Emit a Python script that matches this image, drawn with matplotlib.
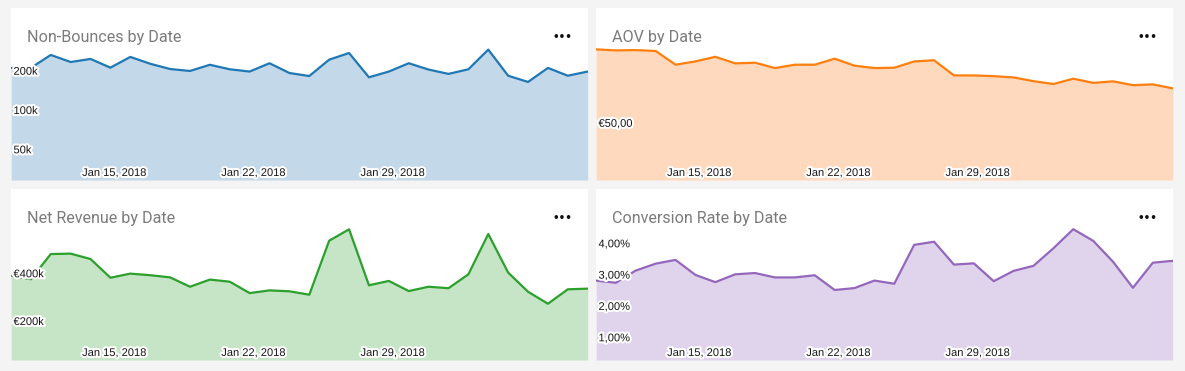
import matplotlib
matplotlib.use("Agg")
import matplotlib.pyplot as plt
import matplotlib.dates as mdates
import matplotlib.ticker as mticker
import matplotlib.patheffects as pe
from matplotlib.transforms import ScaledTranslation
import pandas as pd

# one point per day, Jan 10 .. Feb 8 2018
dates = pd.date_range("2018-01-10", periods=30, freq="D")
date_ticks = pd.to_datetime(["2018-01-15", "2018-01-22", "2018-01-29"])

non_bounces = [210e3, 210e3, 264e3, 233e3, 246e3, 211e3, 255e3, 226e3, 206e3, 199e3,
               222e3, 205e3, 197e3, 228e3, 192e3, 182e3, 243e3, 273e3, 178e3, 197e3,
               228e3, 204e3, 189e3, 205e3, 290e3, 183e3, 164e3, 210e3, 183e3, 197e3]

aov = [88.0, 87.3, 87.5, 86.9, 78.2, 80.2, 83.1, 79.0, 79.4, 76.2,
       78.2, 78.2, 81.9, 77.6, 76.2, 76.4, 80.2, 80.9, 72.0, 72.0,
       71.6, 70.9, 68.9, 67.4, 70.2, 68.0, 68.8, 66.8, 67.2, 65.2]

net_revenue = [386e3, 367e3, 529e3, 532e3, 492e3, 375e3, 398e3, 389e3, 377e3, 329e3,
               365e3, 354e3, 300e3, 312e3, 308e3, 293e3, 642e3, 758e3, 336e3, 358e3,
               309e3, 329e3, 322e3, 394e3, 708e3, 404e3, 306e3, 257e3, 317e3, 320e3]

conversion = [2.81, 2.74, 3.13, 3.35, 3.47, 2.99, 2.76, 3.01, 3.05, 2.91,
              2.91, 2.98, 2.51, 2.57, 2.81, 2.71, 3.95, 4.05, 3.32, 3.36,
              2.79, 3.12, 3.28, 3.84, 4.45, 4.08, 3.41, 2.58, 3.38, 3.44]

W, H = 1185, 371
fig = plt.figure(figsize=(W / 100, H / 100), dpi=100, facecolor="#f4f4f4")

panels = [
    dict(title="Non-Bounces by Date", values=non_bounces, color="#1f77b4", fill="#c3d8e9",
         box=(11, 8.3, 587.7, 180), scale="log", ylim=(29.1e3, 601e3),
         yticks=[50e3, 100e3, 200e3], ylabels=["50k", "100k", "200k"]),
    dict(title="AOV by Date", values=aov, color="#ff7f0e", fill="#fed9bd",
         box=(596, 8.3, 1172.7, 180), scale="log", ylim=(32.2, 120.7),
         yticks=[50], ylabels=["€50,00"]),
    dict(title="Net Revenue by Date", values=net_revenue, color="#2ca02c", fill="#c6e4c6",
         box=(11, 189, 587.7, 360), scale="log", ylim=(113.5e3, 1361e3),
         yticks=[200e3, 400e3], ylabels=["€200k", "€400k"]),
    dict(title="Conversion Rate by Date", values=conversion, color="#9467bd", fill="#e0d4ec",
         box=(596, 189, 1172.7, 360), scale="linear", ylim=(0.275, 5.733),
         yticks=[1, 2, 3, 4], ylabels=["1,00%", "2,00%", "3,00%", "4,00%"]),
]

halo = [pe.withStroke(linewidth=3, foreground="white")]

for p in panels:
    x0, y0, x1, y1 = p["box"]
    ax = fig.add_axes([x0 / W, 1 - y1 / H, (x1 - x0) / W, (y1 - y0) / H])
    ax.set_facecolor("white")
    for s in ax.spines.values():
        s.set_visible(False)
    ax.set_axisbelow(False)

    ax.set_yscale(p["scale"])
    ax.fill_between(dates, p["values"], p["ylim"][0], color=p["fill"], lw=0, zorder=1)
    ax.plot(dates, p["values"], color=p["color"], lw=1.6, zorder=2)
    ax.set_xlim(dates[0], dates[-1])
    ax.set_ylim(*p["ylim"])

    ax.yaxis.set_minor_locator(mticker.NullLocator())
    ax.yaxis.set_minor_formatter(mticker.NullFormatter())
    ax.set_yticks(p["yticks"], p["ylabels"])
    ax.set_xticks(date_ticks)
    ax.xaxis.set_major_formatter(mdates.DateFormatter("%b %-d, %Y"))
    ax.xaxis.set_minor_locator(mticker.NullLocator())

    ax.tick_params(axis="y", length=0, pad=-1.8, labelsize=8, labelcolor="#151515")
    ax.tick_params(axis="x", length=0, pad=-2.9, labelsize=8, labelcolor="#151515")
    shift = ScaledTranslation(4 / 100, 0, fig.dpi_scale_trans)
    for lab in ax.get_yticklabels():
        lab.set_ha("left")
        lab.set_family("Liberation Sans")
        lab.set_path_effects(halo)
    for lab in ax.get_xticklabels():
        lab.set_va("baseline")
        lab.set_family("Liberation Sans")
        lab.set_path_effects(halo)
        lab.set_transform(lab.get_transform() + shift)

    # card title and the menu dots
    fig.text((x0 + 16) / W, 1 - (y0 + 33.5) / H, p["title"], family="Roboto",
             fontsize=11.6, color="#7b7b7b", va="baseline")
    fig.text((x1 - 25) / W, 1 - (y0 + 29) / H, "•••", family="DejaVu Sans",
             fontsize=7.5, fontweight="bold", color="#111111", ha="center", va="center")

fig.savefig("out.png", dpi=100, facecolor=fig.get_facecolor())
